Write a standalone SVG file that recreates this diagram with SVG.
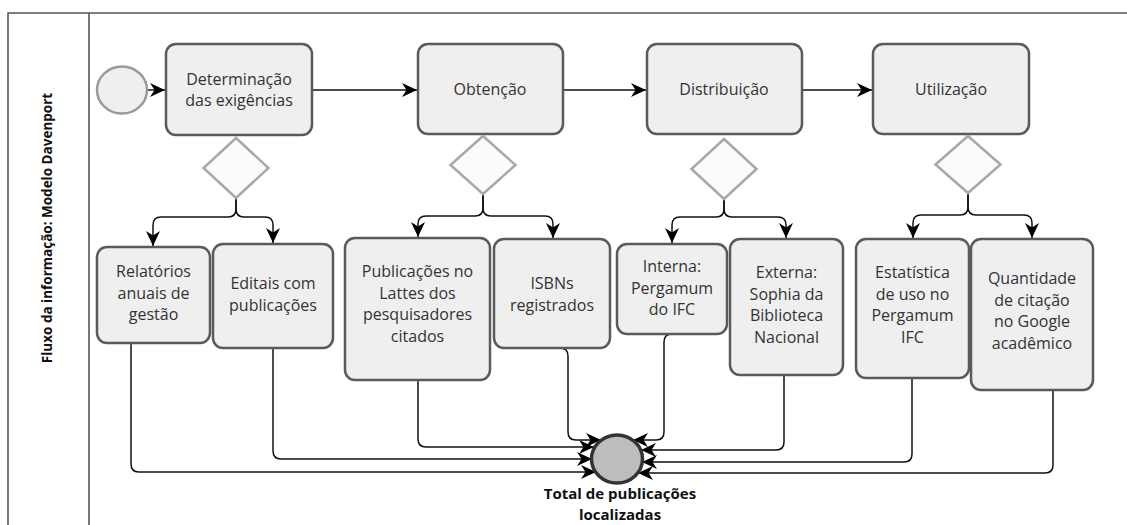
<svg xmlns="http://www.w3.org/2000/svg" width="1127" height="525" viewBox="0 0 1127 525">
<style>
.lane{fill:none;stroke:#555;stroke-width:1.6}
.task{fill:#efefef;stroke:#5a5a5a;stroke-width:2.5}
.gw{fill:#fbfbfb;stroke:#a8a8a8;stroke-width:2.5}
.t{font-family:"Open Sans","Liberation Sans",sans-serif;font-size:16px;fill:#333;text-anchor:middle}
.b{font-family:"Open Sans","Liberation Sans",sans-serif;font-weight:bold;fill:#111;text-anchor:middle}
.c{fill:none;stroke:#111;stroke-width:1.5}
</style>
<defs>
<marker id="ah" markerUnits="userSpaceOnUse" markerWidth="16" markerHeight="16" refX="15" refY="8" orient="auto">
<path d="M0,1 L15,8 L0,15 L4.5,8 Z" fill="#000"/>
</marker>
</defs>

<g id="lane">
<path class="lane" d="M8,525 V13 H1127"/>
<path class="lane" d="M89,13 V525"/>
<text class="b" font-size="13.5" transform="translate(52,228) rotate(-90)">Fluxo da informação: Modelo Davenport</text>
</g>

<g id="connectors">
<path class="c" d="M147,90 H165" marker-end="url(#ah)"/>
<path class="c" d="M312,90 H417" marker-end="url(#ah)"/>
<path class="c" d="M563,90 H646" marker-end="url(#ah)"/>
<path class="c" d="M802,90 H872" marker-end="url(#ah)"/>

<path class="c" d="M236,198 V209 Q236,217 228,217 H161 Q153,217 153,225 V246" marker-end="url(#ah)"/>
<path class="c" d="M236,198 V209 Q236,217 244,217 H265 Q273,217 273,225 V243" marker-end="url(#ah)"/>
<path class="c" d="M483,194 V208 Q483,216 475,216 H426 Q418,216 418,224 V237" marker-end="url(#ah)"/>
<path class="c" d="M483,194 V208 Q483,216 491,216 H545 Q553,216 553,224 V238" marker-end="url(#ah)"/>
<path class="c" d="M724,199 V209 Q724,217 716,217 H680 Q672,217 672,225 V243" marker-end="url(#ah)"/>
<path class="c" d="M724,199 V209 Q724,217 732,217 H778 Q786,217 786,225 V238" marker-end="url(#ah)"/>
<path class="c" d="M968,193 V207 Q968,215 960,215 H921 Q913,215 913,223 V238" marker-end="url(#ah)"/>
<path class="c" d="M968,193 V207 Q968,215 976,215 H1024 Q1032,215 1032,223 V238" marker-end="url(#ah)"/>

<path class="c" d="M131,343 V464 Q131,472 139,472 H596" marker-end="url(#ah)"/>
<path class="c" d="M273,348 V451 Q273,459 281,459 H592" marker-end="url(#ah)"/>
<path class="c" d="M418,380 V439 Q418,447 426,447 H594" marker-end="url(#ah)"/>
<path class="c" d="M540,348 H560 Q568,348 568,356 V432 Q568,440 576,440 H601" marker-end="url(#ah)"/>
<path class="c" d="M685,334 H672 Q664,334 664,342 V432 Q664,440 656,440 H633" marker-end="url(#ah)"/>
<path class="c" d="M784,375 V442 Q784,450 776,450 H641" marker-end="url(#ah)"/>
<path class="c" d="M912,378 V454 Q912,462 904,462 H642" marker-end="url(#ah)"/>
<path class="c" d="M1053,390 V465 Q1053,473 1045,473 H638" marker-end="url(#ah)"/>
</g>

<g id="start"><ellipse cx="122" cy="90" rx="25" ry="23.5" fill="#efefef" stroke="#9a9a9a" stroke-width="2.5"/></g>

<g id="n-determinacao"><rect class="task" x="166" y="44" width="146" height="91" rx="10"/>
<text class="t" x="239" y="85">Determinação</text><text class="t" x="239" y="106">das exigências</text></g>
<g id="n-obtencao"><rect class="task" x="418" y="44" width="145" height="90" rx="10"/>
<text class="t" x="490" y="95">Obtenção</text></g>
<g id="n-distribuicao"><rect class="task" x="647" y="44" width="155" height="90" rx="10"/>
<text class="t" x="724" y="95">Distribuição</text></g>
<g id="n-utilizacao"><rect class="task" x="873" y="44" width="156" height="90" rx="10"/>
<text class="t" x="951" y="95">Utilização</text></g>

<g id="gw1"><path class="gw" d="M236,138 L268.5,168 L236,198 L203.5,168 Z"/></g>
<g id="gw2"><path class="gw" d="M483,136 L515.5,165 L483,194 L450.5,165 Z"/></g>
<g id="gw3"><path class="gw" d="M724,139 L756.5,169 L724,199 L691.5,169 Z"/></g>
<g id="gw4"><path class="gw" d="M968,136 L1000.5,164.5 L968,193 L935.5,164.5 Z"/></g>

<g id="n-relatorios"><rect class="task" x="97" y="247" width="113" height="96" rx="10"/>
<text class="t" x="153.5" y="277">Relatórios</text><text class="t" x="153.5" y="298.5">anuais de</text><text class="t" x="153.5" y="320">gestão</text></g>
<g id="n-editais"><rect class="task" x="213" y="244" width="120" height="104" rx="10"/>
<text class="t" x="273" y="289">Editais com</text><text class="t" x="273" y="310.5">publicações</text></g>
<g id="n-lattes"><rect class="task" x="345" y="238" width="145" height="142" rx="10"/>
<text class="t" x="417.5" y="277">Publicações no</text><text class="t" x="417.5" y="298.5">Lattes dos</text><text class="t" x="417.5" y="320">pesquisadores</text><text class="t" x="417.5" y="341.5">citados</text></g>
<g id="n-isbn"><rect class="task" x="494" y="239" width="116" height="109" rx="10"/>
<text class="t" x="552" y="289">ISBNs</text><text class="t" x="552" y="310.5">registrados</text></g>
<g id="n-interna"><rect class="task" x="617" y="244" width="110" height="90" rx="10"/>
<text class="t" x="672" y="272">Interna:</text><text class="t" x="672" y="293.5">Pergamum</text><text class="t" x="672" y="315">do IFC</text></g>
<g id="n-externa"><rect class="task" x="730" y="239" width="113" height="136" rx="10"/>
<text class="t" x="786.5" y="278">Externa:</text><text class="t" x="786.5" y="299.5">Sophia da</text><text class="t" x="786.5" y="321">Biblioteca</text><text class="t" x="786.5" y="342.5">Nacional</text></g>
<g id="n-estatistica"><rect class="task" x="856" y="239" width="113" height="139" rx="10"/>
<text class="t" x="912.5" y="278">Estatística</text><text class="t" x="912.5" y="299.5">de uso no</text><text class="t" x="912.5" y="321">Pergamum</text><text class="t" x="912.5" y="342.5">IFC</text></g>
<g id="n-quantidade"><rect class="task" x="971" y="239" width="122" height="151" rx="10"/>
<text class="t" x="1032" y="284">Quantidade</text><text class="t" x="1032" y="305.5">de citação</text><text class="t" x="1032" y="327">no Google</text><text class="t" x="1032" y="348.5">acadêmico</text></g>

<g id="end"><ellipse cx="617" cy="459" rx="25.5" ry="24" fill="#bdbdbd" stroke="#333" stroke-width="3.5"/>
<text class="b" font-size="15" x="620" y="499">Total de publicações</text><text class="b" font-size="15" x="620" y="520">localizadas</text></g>
</svg>
